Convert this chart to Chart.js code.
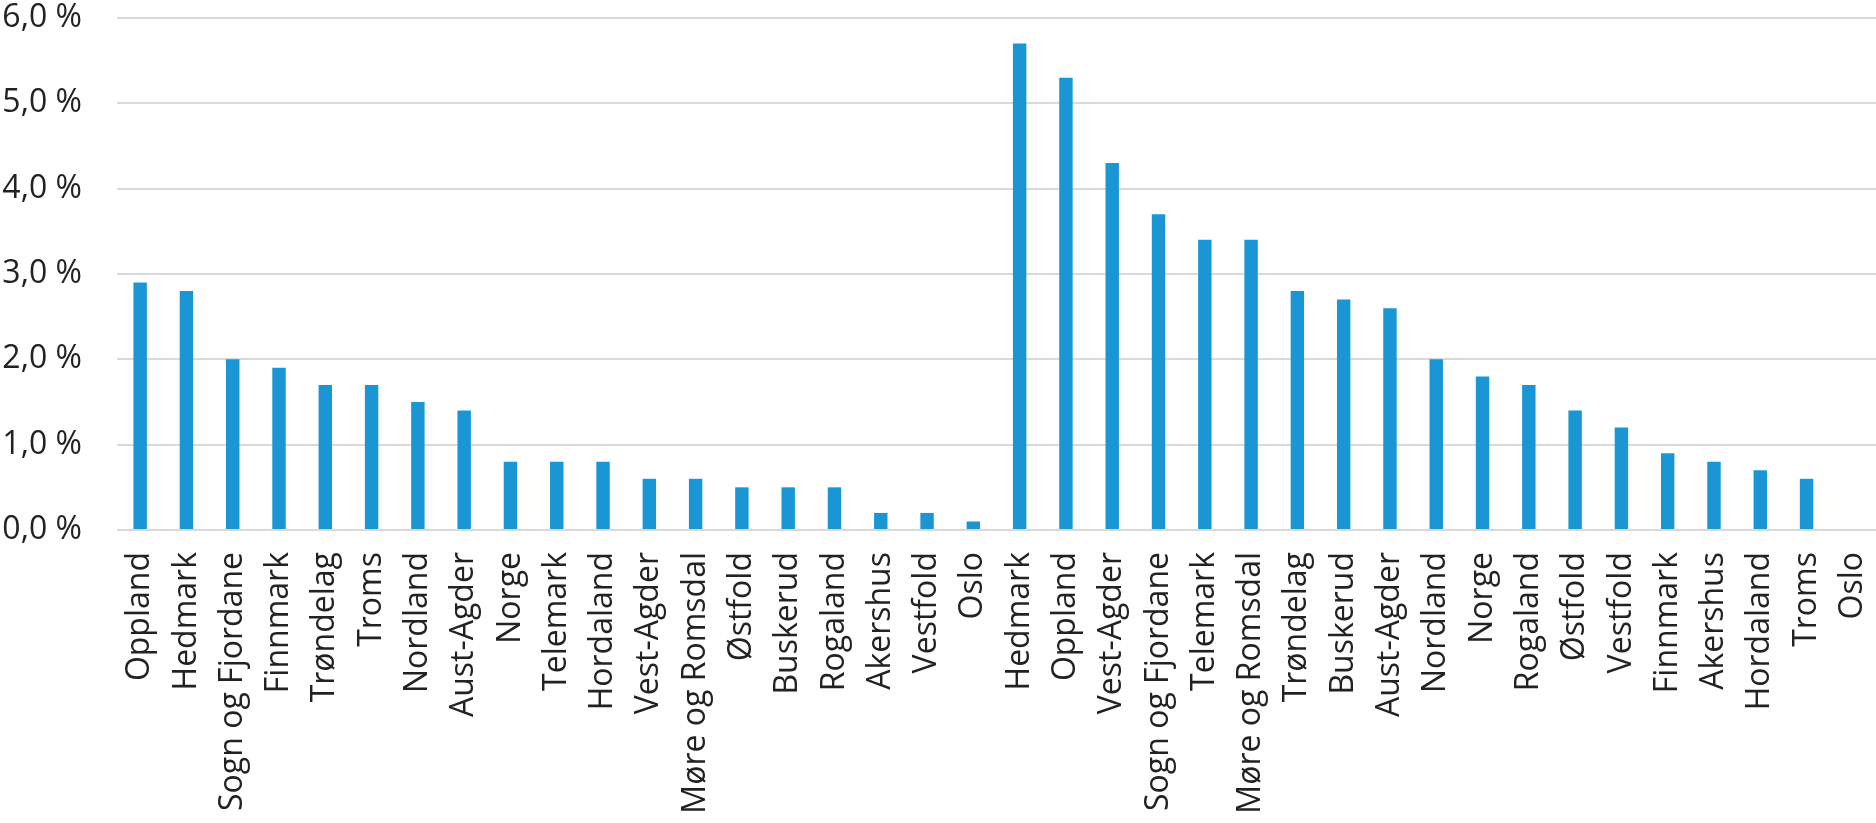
<!DOCTYPE html>
<html>
<head>
<meta charset="utf-8">
<script src="https://cdn.jsdelivr.net/npm/chart.js@4/dist/chart.umd.min.js"></script>
<style>
  html, body { margin: 0; padding: 0; background: #fff; }
  #wrap { width: 1876px; height: 823px; }
</style>
</head>
<body>
<div id="wrap"><canvas id="myChart" width="1876" height="823"></canvas></div>
<script>
// first group of regions
const leftRegions = ["Oppland", "Hedmark", "Sogn og Fjordane", "Finnmark", "Trøndelag", "Troms", "Nordland", "Aust-Agder", "Norge", "Telemark", "Hordaland", "Vest-Agder", "Møre og Romsdal", "Østfold", "Buskerud", "Rogaland", "Akershus", "Vestfold", "Oslo"];
const leftValues = [2.9, 2.8, 2.0, 1.9, 1.7, 1.7, 1.5, 1.4, 0.8, 0.8, 0.8, 0.6, 0.6, 0.5, 0.5, 0.5, 0.2, 0.2, 0.1];

// second group of regions
const rightRegions = ["Hedmark", "Oppland", "Vest-Agder", "Sogn og Fjordane", "Telemark", "Møre og Romsdal", "Trøndelag", "Buskerud", "Aust-Agder", "Nordland", "Norge", "Rogaland", "Østfold", "Vestfold", "Finnmark", "Akershus", "Hordaland", "Troms", "Oslo"];
const rightValues = [5.7, 5.3, 4.3, 3.7, 3.4, 3.4, 2.8, 2.7, 2.6, 2.0, 1.8, 1.7, 1.4, 1.2, 0.9, 0.8, 0.7, 0.6, 0.0];

// y axis ticks
const yMin = 0;
const yMax = 6;
const yStep = 1;

const labels = leftRegions.concat(rightRegions);
const values = leftValues.concat(rightValues);

const ctx = document.getElementById("myChart");

new Chart(ctx, {
  type: "bar",
  data: {
    labels: labels,
    datasets: [
      {
        data: values,
        backgroundColor: "#1a96d4",
        borderWidth: 0,
        categoryPercentage: 1,
        barPercentage: 0.29,
      },
    ],
  },
  options: {
    responsive: false,
    animation: false,
    layout: { padding: 0 },
    plugins: {
      legend: { display: false },
      tooltip: { enabled: false },
    },
    scales: {
      x: {
        grid: { display: false, drawTicks: false },
        border: { display: false },
        ticks: {
          autoSkip: false,
          minRotation: 90,
          maxRotation: 90,
          padding: 22,
          color: "#222",
          font: { family: "Open Sans", size: 32 },
        },
        afterFit: (scale) => {
          scale.height = 293;
          scale.paddingRight = 0;
          scale.paddingTop = 0;
        },
      },
      y: {
        min: yMin,
        max: yMax,
        grid: { color: "#d9d9d9", lineWidth: 2, drawTicks: false },
        border: { display: false },
        ticks: {
          stepSize: yStep,
          padding: 35,
          color: "#222",
          font: { family: "Open Sans", size: 32 },
          callback: (v) => v.toFixed(1).replace(".", ",") + " %",
        },
        afterFit: (scale) => {
          scale.width = 117;
          scale.paddingTop = 18;
        },
      },
    },
  },
});
</script>
</body>
</html>
